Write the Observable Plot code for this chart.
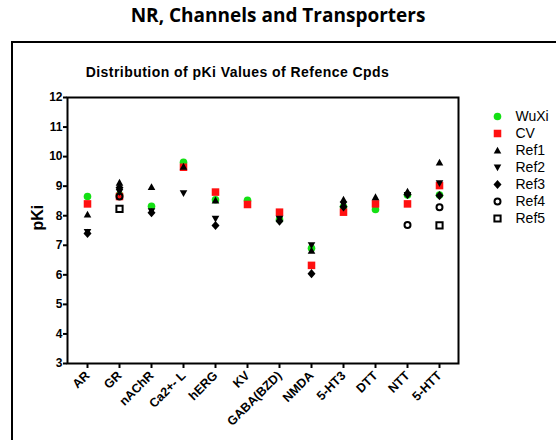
<!DOCTYPE html>
<html><head><meta charset="utf-8">
<script src="https://cdn.jsdelivr.net/npm/d3@7"></script>
<script src="https://cdn.jsdelivr.net/npm/@observablehq/plot@0.6"></script>
<style>
body{margin:0;background:#fff;}
#wrap{position:relative;width:556px;height:440px;overflow:hidden;background:#fff;}
#title{position:absolute;left:0;top:6px;width:556px;text-align:center;font:700 19px/19px "Open Sans",sans-serif;color:#000;}
#frame{position:absolute;left:11px;top:41px;width:600px;height:500px;border:2px solid #000;box-sizing:border-box;}
#subtitle{position:absolute;left:0;top:65px;width:475px;text-align:center;font:700 14px/14px "Liberation Sans",Arial,sans-serif;letter-spacing:0.45px;color:#000;}
#chart{position:absolute;left:0;top:0;}
#legend{position:absolute;left:480px;top:100px;}
</style>
</head><body>
<div id="wrap">
  <div id="frame"></div>
  <div id="title">NR, Channels and Transporters</div>
  <div id="subtitle">Distribution of pKi Values of Refence Cpds</div>
  <div id="chart"></div>
  <div id="legend"></div>
</div>
<script>
const categories = ["AR","GR","nAChR","Ca2+- L","hERG","KV","GABA(BZD)","NMDA","5-HT3","DTT","NTT","5-HTT"];
const yTicks = [3,4,5,6,7,8,9,10,11,12];
const seriesNames = ["WuXi","CV","Ref1","Ref2","Ref3","Ref4","Ref5"];
const wuxi = [8.65, 8.7, 8.32, 9.81, 8.54, 8.52, 7.87, 6.9, 8.3, 8.21, 8.7, 8.7];
const cv   = [8.4, 8.65, null, 9.64, 8.8, 8.38, 8.12, 6.32, 8.12, 8.4, 8.4, 9.02];
const ref1 = [8.04, 9.12, 8.97, 9.66, 8.52, null, null, 6.82, 8.55, 8.63, 8.82, 9.8];
const ref2 = [7.45, 8.8, 8.15, 8.76, 7.9, null, 7.9, 7.0, 8.38, null, 8.7, 9.1];
const ref3 = [7.4, 8.95, 8.1, null, 7.67, null, 7.82, 6.04, 8.3, null, 8.72, 8.68];
const ref4 = [null, 8.65, null, null, null, null, null, null, null, null, 7.69, 8.29];
const ref5 = [null, 8.23, null, null, null, null, null, null, null, null, null, 7.67];
const seriesValues = [wuxi, cv, ref1, ref2, ref3, ref4, ref5];

const triUp = {draw(ctx, size){const r=Math.sqrt(size/Math.PI); ctx.moveTo(0,-r); ctx.lineTo(r,0.8*r); ctx.lineTo(-r,0.8*r); ctx.closePath();}};
const triDown = {draw(ctx, size){const r=Math.sqrt(size/Math.PI); ctx.moveTo(0,r); ctx.lineTo(r,-0.8*r); ctx.lineTo(-r,-0.8*r); ctx.closePath();}};
const rhomb = {draw(ctx, size){const r=Math.sqrt(size/Math.PI); ctx.moveTo(0,-1.15*r); ctx.lineTo(r,0); ctx.lineTo(0,1.15*r); ctx.lineTo(-r,0); ctx.closePath();}};

const GREEN = "#14e014", RED = "#ff1010";
const styles = [
  {symbol:"circle", fill:GREEN, stroke:"none", r:3.8},
  {symbol:"square", fill:RED, stroke:"none", r:4.25},
  {symbol:triUp, fill:"#000", stroke:"none", r:3.8},
  {symbol:triDown, fill:"#000", stroke:"none", r:3.8},
  {symbol:rhomb, fill:"#000", stroke:"none", r:4},
  {symbol:"circle", fill:"none", stroke:"#000", strokeWidth:2, r:3},
  {symbol:"square", fill:"none", stroke:"#000", strokeWidth:2, r:3.5}
];

const dotMarks = seriesValues.map((vals, i) => {
  const data = categories.map((c, j) => ({cat:c, v:vals[j]})).filter(d => d.v != null);
  return Plot.dot(data, {x:"cat", y:"v", ...styles[i]});
});

const chart = Plot.plot({
  width:556, height:440,
  marginTop:97, marginBottom:77, marginLeft:67, marginRight:98,
  style:{fontFamily:"'Liberation Sans', Arial, sans-serif", background:"transparent", color:"#000"},
  x:{type:"point", domain:categories, padding:0.5, label:null},
  y:{domain:[3,12], label:null},
  marks:[
    Plot.axisY({ticks:yTicks, tickSize:4, tickPadding:1, fontSize:12, fontWeight:"bold", strokeWidth:2, label:null}),
    Plot.axisX({tickSize:5, strokeWidth:2, text:null, label:null}),
    Plot.axisX({tickSize:0, tickPadding:7, tickRotate:-45, fontSize:12.5, fontWeight:"bold", label:null, dx:0, dy:3}),
    Plot.frame({strokeWidth:2}),
    Plot.text(["pKi"], {frameAnchor:"left", dx:-30, rotate:-90, fontSize:16, fontWeight:"bold"}),
    ...dotMarks
  ]
});
document.getElementById("chart").append(chart);

const legend = Plot.plot({
  width:76, height:140, margin:0,
  style:{fontFamily:"'Liberation Sans', Arial, sans-serif", background:"transparent", color:"#000"},
  y:{type:"point", domain:seriesNames, range:[14,119], padding:0, axis:null},
  marks:[
    ...seriesNames.map((n, i) => Plot.dot([n], {y:d=>d, frameAnchor:"left", dx:17, ...styles[i]})),
    Plot.text(seriesNames, {y:d=>d, frameAnchor:"left", dx:35, textAnchor:"start", fontSize:14})
  ]
});
document.getElementById("legend").append(legend);
</script>
</body></html>
